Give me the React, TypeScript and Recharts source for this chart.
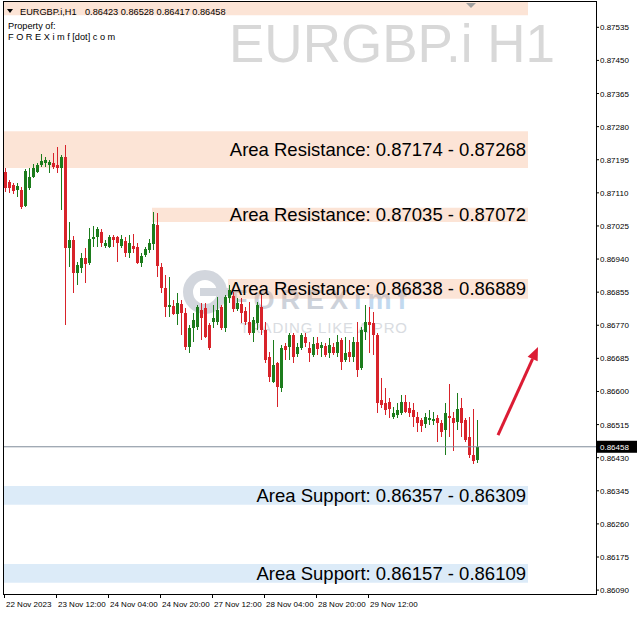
import { Bar, ComposedChart, ReferenceArea, ReferenceLine, XAxis, YAxis } from "recharts";

// EURGBP.i H1 candles
const openPrices = [
  0.87163, 0.87138, 0.8713, 0.87117, 0.87117, 0.87076, 0.87122, 0.87151, 0.87163, 0.87181,
  0.87187, 0.87181, 0.87187, 0.87181, 0.87174, 0.87202, 0.86968, 0.86989, 0.86904, 0.86917,
  0.86943, 0.8693, 0.86991, 0.86997, 0.87009, 0.86973, 0.86971, 0.86997, 0.86997, 0.86973,
  0.86986, 0.86955, 0.86973, 0.86971, 0.8693, 0.8695, 0.86963, 0.86979, 0.87027, 0.86919,
  0.86866, 0.86817, 0.86819, 0.86799, 0.86824, 0.86801, 0.86714, 0.86763, 0.86765, 0.86809,
  0.86814, 0.8677, 0.86778, 0.86778, 0.86817, 0.86763, 0.8684, 0.86845, 0.86812, 0.86824,
  0.86806, 0.86778, 0.8675, 0.86776, 0.86817, 0.86758, 0.86688, 0.86624, 0.86673, 0.86609,
  0.86717, 0.86714, 0.86745, 0.86696, 0.86711, 0.8674, 0.86711, 0.86694, 0.86724, 0.86711,
  0.86717, 0.86699, 0.86714, 0.86699, 0.86732, 0.86681, 0.86701, 0.86688, 0.86727, 0.8666,
  0.86752, 0.86778, 0.86776, 0.86745, 0.86578, 0.8657, 0.86573, 0.86534, 0.86539, 0.86545,
  0.86573, 0.86557, 0.86552, 0.86534, 0.86527, 0.86516, 0.86527, 0.86524, 0.86532, 0.86519,
  0.86501, 0.86537, 0.86532, 0.86521, 0.86557, 0.86527, 0.86483, 0.86437, 0.86423,
];
const highPrices = [
  0.87174, 0.87143, 0.87135, 0.87135, 0.87125, 0.87171, 0.87174, 0.87184, 0.87187, 0.8721,
  0.87202, 0.87194, 0.87212, 0.87228, 0.87207, 0.87233, 0.87035, 0.86999, 0.86932, 0.86955,
  0.86968, 0.8702, 0.87025, 0.87022, 0.87017, 0.86989, 0.87002, 0.87002, 0.86999, 0.87002,
  0.86997, 0.87002, 0.87004, 0.86981, 0.86955, 0.86971, 0.86991, 0.87061, 0.87058, 0.8693,
  0.86899, 0.86894, 0.86835, 0.86853, 0.86835, 0.86814, 0.8677, 0.86801, 0.86822, 0.86827,
  0.86827, 0.86776, 0.86822, 0.86842, 0.86822, 0.86848, 0.86873, 0.86855, 0.8684, 0.8684,
  0.86817, 0.8683, 0.86791, 0.8683, 0.86848, 0.86778, 0.86701, 0.86732, 0.86676, 0.86719,
  0.86724, 0.8675, 0.8675, 0.86724, 0.8675, 0.8675, 0.86727, 0.8674, 0.8674, 0.86727,
  0.86724, 0.86737, 0.86724, 0.86745, 0.86737, 0.8674, 0.86732, 0.8674, 0.86778, 0.86765,
  0.86822, 0.86817, 0.86804, 0.8675, 0.86634, 0.86609, 0.86583, 0.8656, 0.8657, 0.86591,
  0.86591, 0.86573, 0.8657, 0.86547, 0.86532, 0.86545, 0.86552, 0.86547, 0.86539, 0.86527,
  0.8657, 0.86619, 0.86547, 0.86596, 0.86583, 0.86532, 0.86534, 0.86555, 0.86528,
];
const lowPrices = [
  0.87112, 0.8711, 0.87107, 0.87099, 0.87068, 0.87074, 0.87117, 0.87148, 0.87161, 0.87176,
  0.87176, 0.87161, 0.87171, 0.87161, 0.87066, 0.8677, 0.86919, 0.86853, 0.86873, 0.86904,
  0.86878, 0.86925, 0.86971, 0.86971, 0.86971, 0.86968, 0.86968, 0.86971, 0.86932, 0.86968,
  0.86945, 0.86943, 0.86955, 0.86927, 0.86919, 0.86945, 0.86955, 0.86963, 0.86894, 0.86853,
  0.86791, 0.86791, 0.86796, 0.8677, 0.86745, 0.86706, 0.86699, 0.86727, 0.86758, 0.86732,
  0.86737, 0.86706, 0.86763, 0.8677, 0.86758, 0.86752, 0.86827, 0.86804, 0.86806, 0.86776,
  0.8677, 0.86745, 0.86727, 0.86758, 0.86745, 0.86673, 0.86624, 0.86622, 0.8656, 0.86598,
  0.86681, 0.86681, 0.86673, 0.86688, 0.86706, 0.86714, 0.86676, 0.86688, 0.86694, 0.86688,
  0.86688, 0.86686, 0.86694, 0.86688, 0.86655, 0.86676, 0.86676, 0.86676, 0.86637, 0.86655,
  0.86732, 0.86699, 0.86694, 0.86545, 0.86557, 0.86539, 0.86532, 0.86529, 0.86532, 0.86539,
  0.86545, 0.86534, 0.86509, 0.86496, 0.86496, 0.86506, 0.86514, 0.86514, 0.8647, 0.86483,
  0.86437, 0.86483, 0.86447, 0.86501, 0.86483, 0.8647, 0.86429, 0.86414, 0.86417,
];
const closePrices = [
  0.87122, 0.87122, 0.87115, 0.87128, 0.87074, 0.87166, 0.87151, 0.87174, 0.87181, 0.87192,
  0.87194, 0.87189, 0.87176, 0.87174, 0.87202, 0.86968, 0.86989, 0.86904, 0.86925, 0.86943,
  0.86927, 0.86991, 0.86997, 0.87017, 0.86981, 0.86981, 0.86997, 0.86989, 0.86981, 0.86991,
  0.86955, 0.86981, 0.86966, 0.8693, 0.86948, 0.86966, 0.86981, 0.8703, 0.86922, 0.86866,
  0.86817, 0.86822, 0.86799, 0.86827, 0.86801, 0.86714, 0.86763, 0.86783, 0.86817, 0.86788,
  0.8674, 0.86711, 0.86788, 0.86809, 0.86763, 0.86842, 0.8686, 0.86812, 0.86827, 0.86801,
  0.86778, 0.8675, 0.86783, 0.86822, 0.86758, 0.86681, 0.86637, 0.86668, 0.86611, 0.86711,
  0.86706, 0.86745, 0.86688, 0.86714, 0.86745, 0.86724, 0.86699, 0.86722, 0.86709, 0.86719,
  0.86694, 0.86719, 0.86699, 0.86727, 0.86676, 0.86699, 0.86688, 0.86727, 0.86655, 0.86758,
  0.86778, 0.8677, 0.86745, 0.8657, 0.86565, 0.86552, 0.86555, 0.86545, 0.86552, 0.86573,
  0.86547, 0.86545, 0.86534, 0.86519, 0.86511, 0.86534, 0.86532, 0.86529, 0.86519, 0.86496,
  0.86545, 0.86532, 0.86519, 0.86555, 0.86519, 0.86475, 0.86437, 0.86421, 0.86458,
];

const timeTicks = [0, 13, 26, 39, 52, 65, 78, 91];
const timeLabels = [
  "22 Nov 2023", "23 Nov 12:00", "24 Nov 04:00", "24 Nov 20:00",
  "27 Nov 12:00", "28 Nov 04:00", "28 Nov 20:00", "29 Nov 12:00",
];
const priceTicks = [
  0.87535, 0.8745, 0.87365, 0.8728, 0.87195, 0.8711, 0.87025, 0.8694, 0.86855,
  0.8677, 0.86685, 0.866, 0.86515, 0.8643, 0.86345, 0.8626, 0.86175, 0.8609,
];
const currentPrice = 0.86458;

// zones: [from, to, first slot, label]
const resistanceZones: [number, number, number, string][] = [
  [0.87566, 0.8762, 0, ""],
  [0.87174, 0.87268, 0, "Area Resistance: 0.87174 - 0.87268"],
  [0.87035, 0.87072, 37, "Area Resistance: 0.87035 - 0.87072"],
  [0.86838, 0.86889, 56, "Area Resistance: 0.86838 - 0.86889"],
];
const supportZones: [number, number, number, string][] = [
  [0.86309, 0.86357, 0, "Area Support: 0.86357 - 0.86309"],
  [0.86109, 0.86157, 0, "Area Support: 0.86157 - 0.86109"],
];
const zoneEndSlot = 130;
const arrowFrom = { slot: 123, price: 0.86488 };
const arrowTo = { slot: 133, price: 0.86714 };

const SLOTS = 148;
const FONT = '"Liberation Sans", Arial, sans-serif';
const UP = "#1c7c1c";
const DOWN = "#d8232a";
const ARROW = "#dc1c34";

type Slot = { i: number; o?: number; h?: number; l?: number; c?: number };

const slots: Slot[] = Array.from({ length: SLOTS }, (_, i) =>
  i < openPrices.length
    ? { i, o: openPrices[i], h: highPrices[i], l: lowPrices[i], c: closePrices[i] }
    : { i }
);

function Candle(props: any) {
  const { x, y, width, height, payload } = props;
  if (!payload || payload.h == null || !Number.isFinite(y) || !Number.isFinite(height)) return <g />;
  const top = Math.min(y, y + height);
  const span = Math.abs(height);
  const range = payload.h - payload.l;
  const toY = (p: number) => top + (range === 0 ? 0 : ((payload.h - p) / range) * span);
  const color = payload.c >= payload.o ? UP : DOWN;
  const cx = Math.round(x + width / 2);
  const bodyTop = toY(Math.max(payload.o, payload.c));
  const bodyBottom = toY(Math.min(payload.o, payload.c));
  return (
    <g shapeRendering="crispEdges">
      <rect x={cx - 1} y={top} width={1} height={Math.max(1, span)} fill={color} />
      <rect x={cx - 2} y={bodyTop} width={3} height={Math.max(1, bodyBottom - bodyTop)} fill={color} />
    </g>
  );
}

function TimeTick(props: any) {
  const { x, y, payload } = props;
  const k = timeTicks.indexOf(payload.value);
  if (k < 0) return <g />;
  return (
    <g>
      <line x1={x - 1.5} x2={x - 1.5} y1={y} y2={y + 4} stroke="#000" />
      <text x={x} y={y + 13} fontSize={8} fontFamily={FONT} fill="#000">
        {timeLabels[k]}
      </text>
    </g>
  );
}

function PriceTick(props: any) {
  const { x, y, payload } = props;
  return (
    <text x={x} y={y + 3} fontSize={8} fontFamily={FONT} fill="#000">
      {Number(payload.value).toFixed(5)}
    </text>
  );
}

function ZoneLabel({ viewBox, text }: any) {
  if (!viewBox || !text) return null;
  const { x, y, width, height } = viewBox;
  return (
    <text x={x + width - 2} y={y + height / 2 + 6.6} textAnchor="end" fontSize={18.5} fontFamily={FONT} fill="#000">
      {text}
    </text>
  );
}

function PriceTag({ viewBox }: any) {
  if (!viewBox) return null;
  const x = viewBox.x + viewBox.width;
  const y = viewBox.y;
  return (
    <g>
      <rect x={x} y={y - 6} width={41} height={12} fill="#000" />
      <text x={x + 4} y={y + 3} fontSize={8} fontFamily={FONT} fill="#fff">
        {currentPrice.toFixed(5)}
      </text>
    </g>
  );
}

function ArrowShape(props: any) {
  const { x1, y1, x2, y2 } = props;
  if (![x1, y1, x2, y2].every(Number.isFinite)) return <g />;
  const ang = Math.atan2(y2 - y1, x2 - x1);
  const len = 13;
  const half = 5.5;
  const bx = x2 - len * Math.cos(ang);
  const by = y2 - len * Math.sin(ang);
  const px = -Math.sin(ang) * half;
  const py = Math.cos(ang) * half;
  return (
    <g>
      <line x1={x1} y1={y1} x2={bx} y2={by} stroke={ARROW} strokeWidth={3} />
      <polygon points={`${x2},${y2} ${bx + px},${by + py} ${bx - px},${by - py}`} fill={ARROW} />
    </g>
  );
}

export default function App() {
  return (
    <div style={{ position: "absolute", left: 0, top: 0, width: 639, height: 617, background: "#fff", overflow: "hidden" }}>
      {/* watermarks under the chart */}
      <svg width={639} height={617} style={{ position: "absolute", left: 0, top: 0 }}>
        <text x={555} y={62} textAnchor="end" fontSize={53} fontFamily={FONT} fill="#d8d8d8">
          EURGBP.i H1
        </text>
        <circle cx={205} cy={292} r={17} fill="none" stroke="#d2d6dd" strokeWidth={10} />
        <rect x={200} y={288} width={30} height={8} fill="#d2d6dd" />
        <text x={231} y={309} fontSize={27} fontWeight="bold" letterSpacing={6} fontFamily={FONT} fill="#cdd2da">
          FOREX<tspan fill="#c2d9ef">imf</tspan>
        </text>
        <text x={240} y={333} fontSize={15} letterSpacing={0.8} fontFamily={FONT} fill="#d9dce1">
          TRADING LIKE A PRO
        </text>
      </svg>

      <div style={{ position: "absolute", left: 0, top: 0 }}>
        <ComposedChart width={639} height={617} data={slots} margin={{ top: 2, right: 0, bottom: 0, left: 4 }} barCategoryGap={0} barGap={0}>
          <XAxis dataKey="i" type="category" interval={0} height={23} axisLine={false} tickLine={false} tickSize={0} tickMargin={0} tick={<TimeTick />} />
          <YAxis
            orientation="right"
            type="number"
            domain={[0.8608, 0.876]}
            allowDataOverflow
            ticks={priceTicks}
            interval={0}
            width={43}
            axisLine={false}
            tickLine={{ stroke: "#000" }}
            tickSize={3}
            tickMargin={1}
            tick={<PriceTick />}
          />
          {resistanceZones.map(([from, to, start, label]) => (
            <ReferenceArea
              key={`r${from}`}
              x1={start}
              x2={zoneEndSlot}
              y1={from}
              y2={to}
              ifOverflow="hidden"
              fill="#f5a576"
              fillOpacity={0.3}
              stroke="none"
              label={<ZoneLabel text={label} />}
            />
          ))}
          {supportZones.map(([from, to, start, label]) => (
            <ReferenceArea
              key={`s${from}`}
              x1={start}
              x2={zoneEndSlot}
              y1={from}
              y2={to}
              fill="#8abce8"
              fillOpacity={0.3}
              stroke="none"
              label={<ZoneLabel text={label} />}
            />
          ))}
          <ReferenceLine y={currentPrice} stroke="#7f8c99" strokeWidth={1} label={<PriceTag />} />
          <Bar dataKey={(d: Slot) => (d.h == null ? null : [d.l, d.h])} shape={<Candle />} isAnimationActive={false} />
          <ReferenceLine
            segment={[
              { x: arrowFrom.slot, y: arrowFrom.price },
              { x: arrowTo.slot, y: arrowTo.price },
            ]}
            shape={(p: any) => <ArrowShape {...p} />}
          />
        </ComposedChart>
      </div>

      {/* frame and header text */}
      <div style={{ position: "absolute", left: 3, top: 1, width: 594, height: 594, border: "1px solid #000", boxSizing: "border-box", pointerEvents: "none" }} />
      <svg width={639} height={60} style={{ position: "absolute", left: 0, top: 0, pointerEvents: "none" }}>
        <polygon points="7,9 13,9 10,13" fill="#000" />
        <polygon points="466,3 476,3 471,8" fill="#a0a0a0" />
        <text x={20} y={15} fontSize={9.2} fontFamily={FONT} fill="#000">EURGBP.i,H1</text>
        <text x={85} y={15} fontSize={9.2} fontFamily={FONT} fill="#000">0.86423 0.86528 0.86417 0.86458</text>
        <text x={8} y={29} fontSize={9.2} fontFamily={FONT} fill="#000">Property of:</text>
        <text x={8} y={40} fontSize={9.2} fontFamily={FONT} fill="#000">F O R E X i m f [dot] c o m</text>
      </svg>
    </div>
  );
}
